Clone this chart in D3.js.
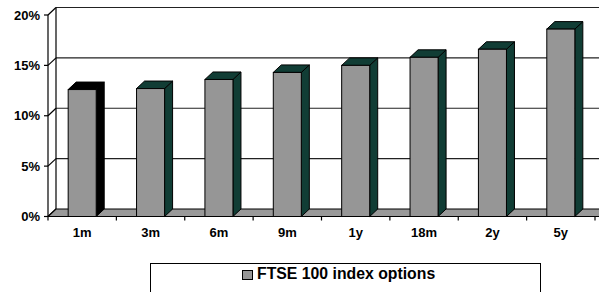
<!DOCTYPE html>
<html>
<head>
<meta charset="utf-8">
<script src="https://cdn.jsdelivr.net/npm/d3@7"></script>
<style>
  body { margin: 0; background: #fff; }
  svg { display: block; font-family: "Liberation Sans", Arial, sans-serif; font-weight: bold; }
</style>
</head>
<body>
<div id="chart"></div>
<script>
var categories = ["1m", "3m", "6m", "9m", "1y", "18m", "2y", "5y"];
var values = [12.6, 12.7, 13.6, 14.3, 15.0, 15.8, 16.6, 18.6];
var yTicks = [0, 5, 10, 15, 20];
var seriesName = "FTSE 100 index options";

var width = 599, height = 292;
var dx = 8, dy = -7.5;   // depth of the 3d box

var x = d3.scaleBand()
    .domain(categories)
    .range([48, 595]);

var y = d3.scaleLinear()
    .domain([0, 20])
    .range([216.5, 15]);

var svg = d3.select("#chart")
    .append("svg")
    .attr("width", width)
    .attr("height", height);

var line = d3.line();
var x0 = x.range()[0];

// back wall gridlines
svg.selectAll(".grid")
    .data(yTicks.filter(d => d > 0))
    .enter().append("line")
    .attr("x1", x0 + dx)
    .attr("x2", width)
    .attr("y1", d => y(d) + dy)
    .attr("y2", d => y(d) + dy)
    .attr("stroke", "#222")
    .attr("stroke-width", 1.2);

// left wall: vertical edges and diagonals
svg.append("line")
    .attr("x1", x0).attr("x2", x0)
    .attr("y1", y(20)).attr("y2", y(0))
    .attr("stroke", "#000").attr("stroke-width", 1.2);

svg.append("line")
    .attr("x1", x0 + dx).attr("x2", x0 + dx)
    .attr("y1", y(20) + dy).attr("y2", y(0) + dy)
    .attr("stroke", "#000").attr("stroke-width", 1.2);

svg.selectAll(".diag")
    .data(yTicks)
    .enter().append("line")
    .attr("x1", x0).attr("x2", x0 + dx)
    .attr("y1", d => y(d)).attr("y2", d => y(d) + dy)
    .attr("stroke", "#000").attr("stroke-width", 1.2);

// floor (runs off the right edge like the original)
var fx1 = width + 20;
svg.append("path")
    .attr("d", line([[x0, y(0)], [fx1, y(0)], [fx1 + dx, y(0) + dy], [x0 + dx, y(0) + dy]]) + "Z")
    .attr("fill", "#999")
    .attr("stroke", "#000")
    .attr("stroke-width", 1.2);

// y axis ticks + labels
svg.selectAll(".ytick")
    .data(yTicks)
    .enter().append("line")
    .attr("x1", x0 - 4).attr("x2", x0)
    .attr("y1", d => y(d)).attr("y2", d => y(d))
    .attr("stroke", "#000").attr("stroke-width", 1.2);

svg.selectAll(".ylab")
    .data(yTicks)
    .enter().append("text")
    .attr("x", 40)
    .attr("y", d => y(d))
    .attr("dy", "0.35em")
    .attr("text-anchor", "end")
    .attr("font-size", 13)
    .text(d => d + "%");

// x axis ticks + labels
var step = x.step();
svg.selectAll(".xtick")
    .data(d3.range(categories.length + 1))
    .enter().append("line")
    .attr("x1", i => x0 + i * step).attr("x2", i => x0 + i * step)
    .attr("y1", y(0)).attr("y2", y(0) + 4)
    .attr("stroke", "#000").attr("stroke-width", 1.2);

svg.selectAll(".xlab")
    .data(categories)
    .enter().append("text")
    .attr("x", d => x(d) + x.bandwidth() / 2)
    .attr("y", 236.5)
    .attr("text-anchor", "middle")
    .attr("font-size", 13)
    .text(d => d);

// bars
var barW = x.bandwidth() * 0.41;
var bars = svg.selectAll(".bar")
    .data(categories.map((c, i) => ({ cat: c, value: values[i], i: i })))
    .enter().append("g");

bars.each(function(d) {
    var g = d3.select(this);
    var bx0 = x(d.cat) + (x.bandwidth() - barW) / 2;
    var bx1 = bx0 + barW;
    var yb = y(0), yt = y(d.value);
    var shade = d.i === 0 ? "#000" : "#113d35";

    g.append("path")
        .attr("d", line([[bx1, yb], [bx1 + dx, yb + dy], [bx1 + dx, yt + dy], [bx1, yt]]) + "Z")
        .attr("fill", shade).attr("stroke", "#000").attr("stroke-width", 1);

    g.append("path")
        .attr("d", line([[bx0, yt], [bx0 + dx, yt + dy], [bx1 + dx, yt + dy], [bx1, yt]]) + "Z")
        .attr("fill", shade).attr("stroke", "#000").attr("stroke-width", 1);

    g.append("rect")
        .attr("x", bx0).attr("y", yt)
        .attr("width", barW).attr("height", yb - yt)
        .attr("fill", "#969696").attr("stroke", "#000").attr("stroke-width", 1);
});

// legend
svg.append("rect")
    .attr("x", 150.5).attr("y", 263.5)
    .attr("width", 390).attr("height", 40)
    .attr("fill", "#fff").attr("stroke", "#000").attr("stroke-width", 1);

svg.append("rect")
    .attr("x", 242.5).attr("y", 270.5)
    .attr("width", 10).attr("height", 9)
    .attr("fill", "#969696").attr("stroke", "#000").attr("stroke-width", 1);

svg.append("text")
    .attr("x", 257)
    .attr("y", 279)
    .attr("font-size", 15.8)
    .text(seriesName);
</script>
</body>
</html>
